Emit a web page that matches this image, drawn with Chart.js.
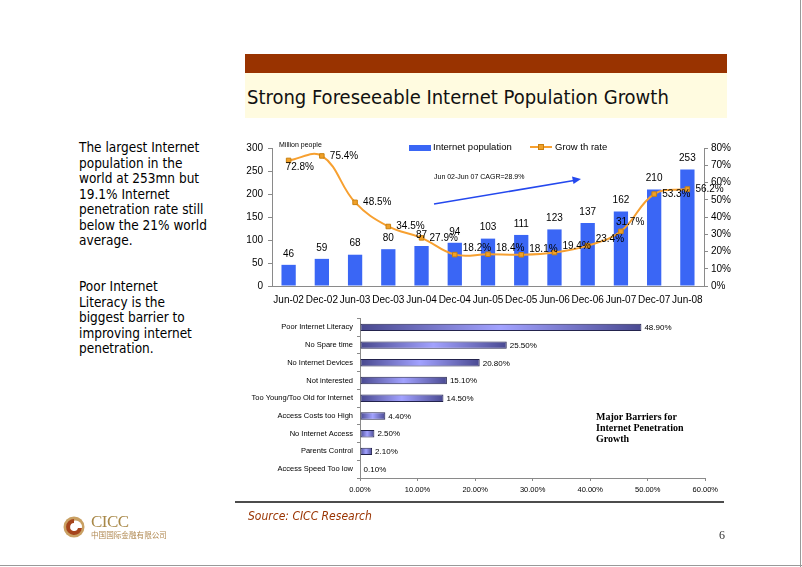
<!DOCTYPE html>
<html>
<head>
<meta charset="utf-8">
<script src="https://cdn.jsdelivr.net/npm/chart.js@4.4.0/dist/chart.umd.min.js"></script>
<style>
html, body { margin: 0; padding: 0; background: #fff; }
#slide { position: relative; width: 802px; height: 567px; overflow: hidden; font-family: 'DejaVu Sans', sans-serif; font-stretch: condensed; }
.abs { position: absolute; }
.titlebar { left: 245px; top: 54px; width: 482px; height: 19px; background: #993300; }
.titleband { left: 245px; top: 73px; width: 482px; height: 45px; background: #fffbe0; }
.title { left: 247px; top: 82px; font-size: 20px; line-height: 30px; color: #111; white-space: nowrap; }
.side { left: 79px; font-size: 13.5px; line-height: 15.5px; color: #000; }
.legend { font-family: 'Liberation Sans', Arial, sans-serif; font-stretch: normal; font-size: 9.5px; color: #000; white-space: nowrap; line-height: 12px; }
.small { font-family: 'Liberation Sans', Arial, sans-serif; font-stretch: normal; font-size: 7px; color: #000; white-space: nowrap; line-height: 9px; }
.note { left: 596px; top: 411px; font-family: 'Liberation Serif', 'Times New Roman', serif; font-stretch: normal; font-weight: bold; font-size: 10px; line-height: 11px; color: #000; }
.source { left: 248px; top: 508px; font-size: 12px; line-height: 16px; font-style: italic; color: #993300; white-space: nowrap; }
.page { left: 719px; top: 527px; font-family: 'Liberation Serif', serif; font-stretch: normal; font-size: 12px; line-height: 16px; color: #333; }
#popWrap { left: 230px; top: 135px; width: 522px; height: 175px; }
#barWrap { left: 235px; top: 310px; width: 487px; height: 190px; }
</style>
</head>
<body>
<div id="slide">
  <div class="abs titlebar"></div>
  <div class="abs titleband"></div>
  <div class="abs title">Strong Foreseeable Internet Population Growth</div>

  <div class="abs side" style="top:140px">The largest Internet<br>population in the<br>world at 253mn but<br>19.1% Internet<br>penetration rate still<br>below the 21% world<br>average.</div>
  <div class="abs side" style="top:279px">Poor Internet<br>Literacy is the<br>biggest barrier to<br>improving internet<br>penetration.</div>

  <div class="abs" id="popWrap"><canvas id="popChart"></canvas></div>
  <div class="abs" id="barWrap"><canvas id="barrierChart"></canvas></div>

  <!-- legend and notes of the top chart -->
  <div class="abs" style="left:409px;top:145px;width:22px;height:6px;background:#3a66f5"></div>
  <div class="abs legend" style="left:433px;top:141px">Internet population</div>
  <div class="abs" style="left:530px;top:146px;width:22px;height:2px;background:#f7a030"></div>
  <div class="abs" style="left:538px;top:144px;width:6px;height:6px;background:#f0a028;box-sizing:border-box;border:1px solid #c88010"></div>
  <div class="abs legend" style="left:555px;top:141px">Grow th rate</div>
  <div class="abs small" style="left:279px;top:140px">Million people</div>
  <div class="abs small" style="left:434px;top:172px">Jun 02-Jun 07 CAGR=28.9%</div>
  <svg class="abs" style="left:0;top:0" width="802" height="567">
    <line x1="434" y1="204" x2="574" y2="180.5" stroke="#2448ee" stroke-width="1.6"/>
    <polygon points="581,179 572,176.5 573.5,184" fill="#2448ee"/>
    <line x1="235" y1="502" x2="724" y2="502" stroke="#111" stroke-width="1.3"/>
    <line x1="800.5" y1="0" x2="800.5" y2="567" stroke="#999" stroke-width="1"/>
    <line x1="0" y1="565.5" x2="802" y2="565.5" stroke="#999" stroke-width="1"/>
    <!-- logo emblem -->
    <circle cx="74" cy="527" r="10.5" fill="#c9a063"/>
    <circle cx="75.5" cy="527" r="6.5" fill="#fff"/>
    <path d="M74 519 A8 8 0 1 0 82 528 L78 528 A4 4 0 1 1 74 523 Z" fill="#a5441c"/>
  </svg>
  <div class="abs" style="left:91px;top:513px;font-family:'Liberation Serif',serif;font-stretch:normal;font-size:17px;line-height:18px;color:#a88848;letter-spacing:-0.5px">CICC</div>
  <div class="abs" style="left:91px;top:530px;font-family:'Noto Sans CJK SC',sans-serif;font-stretch:normal;font-size:7.6px;line-height:9px;color:#b08850;white-space:nowrap">中国国际金融有限公司</div>

  <div class="abs note">Major Barriers for<br>Internet Penetration<br>Growth</div>
  <div class="abs source">Source: CICC Research</div>
  <div class="abs page">6</div>
</div>

<script>
// 数据
const periods = ['Jun-02', 'Dec-02', 'Jun-03', 'Dec-03', 'Jun-04', 'Dec-04', 'Jun-05',
                 'Dec-05', 'Jun-06', 'Dec-06', 'Jun-07', 'Dec-07', 'Jun-08'];
const internetPopulation = [46, 59, 68, 80, 87, 94, 103, 111, 123, 137, 162, 210, 253];
const growthRate = [72.8, 75.4, 48.5, 34.5, 27.9, 18.2, 18.4, 18.1, 19.4, 23.4, 31.7, 53.3, 56.2];

const barriers = ['Poor Internet Literacy', 'No Spare time', 'No Internet Devices', 'Not interested',
                  'Too Young/Too Old for Internet', 'Access Costs too High', 'No Internet Access',
                  'Parents Control', 'Access Speed Too low'];
const barrierShare = [48.9, 25.5, 20.8, 15.1, 14.5, 4.4, 2.5, 2.1, 0.1];

const popTicks = [0, 50, 100, 150, 200, 250, 300];
const rateTicks = [0, 10, 20, 30, 40, 50, 60, 70, 80];

const axisGray = '#8a8a8a';
const chartFont = "'Liberation Sans', Arial, sans-serif";
Chart.defaults.font.family = chartFont;
Chart.defaults.color = '#000';

// 数据标签插件
const valueLabels = {
    id: 'valueLabels',
    afterDatasetsDraw(chart) {
        const ctx = chart.ctx;
        ctx.save();
        ctx.fillStyle = '#000';
        chart.data.datasets.forEach((ds, di) => {
            const meta = chart.getDatasetMeta(di);
            const mode = ds.labelMode;
            ctx.font = (ds.labelSize || 10) + 'px ' + chartFont;
            meta.data.forEach((el, i) => {
                const v = ds.data[i];
                if (mode === 'top') {
                    ctx.textAlign = 'center';
                    ctx.textBaseline = 'bottom';
                    ctx.fillText(v, el.x, el.y - 6);
                } else if (mode === 'rate') {
                    ctx.textAlign = 'left';
                    ctx.textBaseline = 'middle';
                    let dx = 8, dy = 0;
                    if (i === 0) { dx = -3; dy = 7; }
                    else if (i >= 5 && i <= 9) { dy = -6; }
                    else if (i === 10) { dx = -5; dy = -9; }
                    ctx.fillText(v.toFixed(1) + '%', el.x + dx, el.y + dy);
                } else if (mode === 'end') {
                    ctx.textAlign = 'left';
                    ctx.textBaseline = 'middle';
                    ctx.fillText(v.toFixed(2) + '%', el.x + 3, el.y + 0.5);
                }
            });
        });
        ctx.restore();
    }
};

// 上图: 网民数量与增长率
new Chart(document.getElementById('popChart'), {
    type: 'bar',
    data: {
        labels: periods,
        datasets: [{
            type: 'line',
            data: growthRate,
            yAxisID: 'y1',
            order: 0,
            borderColor: '#f7a030',
            borderWidth: 2,
            tension: 0.4,
            pointStyle: 'rect',
            pointRadius: 3.2,
            pointBackgroundColor: '#f0a028',
            pointBorderColor: '#c88010',
            pointBorderWidth: 1,
            labelMode: 'rate',
            labelSize: 10
        }, {
            type: 'bar',
            data: internetPopulation,
            yAxisID: 'y',
            order: 1,
            backgroundColor: '#3a66f5',
            categoryPercentage: 1,
            barPercentage: 0.43,
            labelMode: 'top',
            labelSize: 10
        }]
    },
    options: {
        responsive: true,
        maintainAspectRatio: false,
        animation: false,
        layout: { padding: { top: 13, left: 0, right: 0, bottom: 0 } },
        plugins: { legend: { display: false }, tooltip: { enabled: false } },
        scales: {
            x: {
                grid: { display: false, drawTicks: false },
                border: { display: true, color: axisGray },
                ticks: { font: { size: 10 }, padding: 8, maxRotation: 0, autoSkip: false },
                afterFit: s => { s.height = 24; }
            },
            y: {
                position: 'left',
                min: 0, max: 300,
                afterBuildTicks: s => { s.ticks = popTicks.map(v => ({ value: v })); },
                grid: { drawOnChartArea: false, drawTicks: true, tickLength: 4, color: axisGray },
                border: { display: true, color: axisGray },
                ticks: { font: { size: 10 }, padding: 5 },
                afterFit: s => { s.width = 42; }
            },
            y1: {
                position: 'right',
                min: 0, max: 80,
                afterBuildTicks: s => { s.ticks = rateTicks.map(v => ({ value: v })); },
                grid: { drawOnChartArea: false, drawTicks: true, tickLength: 4, color: axisGray },
                border: { display: true, color: axisGray },
                ticks: { font: { size: 10 }, padding: 3, callback: v => v + '%' },
                afterFit: s => { s.width = 48; }
            }
        }
    },
    plugins: [valueLabels]
});

// 下图: 主要障碍
function barGradient(c) {
    const chart = c.chart;
    if (!chart.chartArea) return '#8080e0';
    const xs = chart.scales.x;
    const x0 = xs.getPixelForValue(0);
    const x1 = xs.getPixelForValue(c.raw);
    if (x1 - x0 < 1) return '#8080e0';
    const g = chart.ctx.createLinearGradient(x0, 0, x1, 0);
    g.addColorStop(0, '#48488e');
    g.addColorStop(0.5, '#a2a2ff');
    g.addColorStop(1, '#4a4a92');
    return g;
}

new Chart(document.getElementById('barrierChart'), {
    type: 'bar',
    data: {
        labels: barriers,
        datasets: [{
            data: barrierShare,
            backgroundColor: barGradient,
            borderColor: '#23234d',
            borderWidth: 1,
            borderSkipped: false,
            categoryPercentage: 0.8,
            barPercentage: 0.52,
            labelMode: 'end',
            labelSize: 8
        }]
    },
    options: {
        indexAxis: 'y',
        responsive: true,
        maintainAspectRatio: false,
        animation: false,
        layout: { padding: { top: 8, right: 11, left: 0, bottom: 0 } },
        plugins: { legend: { display: false }, tooltip: { enabled: false } },
        scales: {
            x: {
                min: 0, max: 60,
                ticks: { stepSize: 10, font: { size: 7.5 }, padding: 4, callback: v => v.toFixed(2) + '%' },
                grid: { drawOnChartArea: false, drawTicks: true, tickLength: 3, color: axisGray },
                border: { display: true, color: axisGray },
                afterFit: s => { s.height = 22; }
            },
            y: {
                grid: { drawOnChartArea: false, drawTicks: true, tickLength: 3, color: axisGray },
                border: { display: true, color: axisGray },
                ticks: { font: { size: 7.5 }, padding: 4, autoSkip: false },
                afterFit: s => { s.width = 125; }
            }
        }
    },
    plugins: [valueLabels]
});
</script>
</body>
</html>
